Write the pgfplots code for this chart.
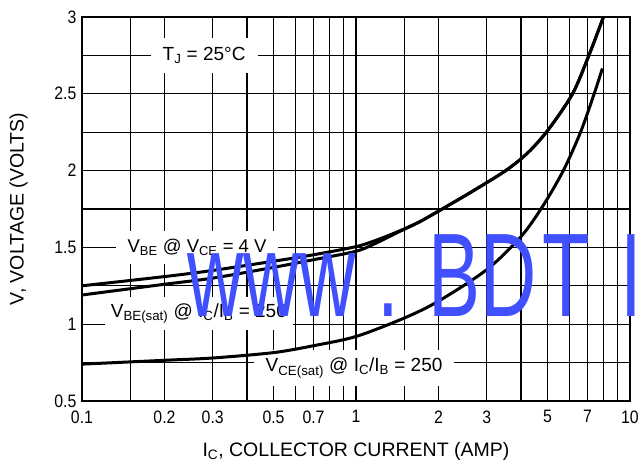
\documentclass[border=0pt]{standalone}
\usepackage{pgfplots}
\pgfplotsset{compat=1.18}
\usetikzlibrary{calc}
\usepackage{fontspec}
\setmainfont{Liberation Sans}
\newfontfamily\wmfont{Liberation Sans}[FakeStretch=0.655]
\newfontfamily\tickfont{Liberation Sans}[FakeStretch=0.88]
\definecolor{wmblue}{RGB}{64,80,255}

\begin{document}
\begin{tikzpicture}
\begin{axis}[
    scale only axis,
    width=548pt, height=384pt,
    xmode=log, log basis x=10,
    xmin=0.1, xmax=10, ymin=0.5, ymax=3,
    xtick={0.1,0.2,0.3,0.5,0.7,1,2,3,5,7,10},
    xticklabels={0.1,0.2,0.3,0.5,0.7,1,2,3,5,7,10},
    minor xtick={0.15,0.4,0.6,0.8,0.9,1.5,4,6,8,9},
    ytick={0.5,1,1.5,2,2.5,3},
    yticklabels={0.5,1,1.5,2,2.5,3},
    minor ytick={0.75,1.25,1.75,2.25,2.75},
    grid=both,
    major grid style={black, line width=1.1pt},
    minor grid style={black, line width=1.1pt},
    major tick length=0pt, minor tick length=0pt,
    axis line style={black, line width=2.5pt},
    tick label style={font=\tickfont\fontsize{18}{20}\selectfont},
    xticklabel style={yshift=-6pt},
    yticklabel style={xshift=-2pt},
    xlabel={I\textsubscript{C}, COLLECTOR CURRENT (AMP)},
    ylabel={V, VOLTAGE (VOLTS)},
    xlabel style={yshift=-12pt},
    ylabel style={yshift=20pt},
    label style={font=\fontsize{19.5}{22}\selectfont},
    clip=false,
]
\coordinate (sw) at (rel axis cs:0,0);
\coordinate (ne) at (rel axis cs:1,1);

\node[fill=white, inner xsep=12pt, inner ysep=9pt, font=\fontsize{19}{22}\selectfont]
    at (axis cs:0.279,2.75) {T\textsubscript{J} = 25°C};
\node[fill=white, inner xsep=12pt, inner ysep=8pt, font=\fontsize{18.5}{22}\selectfont]
    at (axis cs:0.263,1.5) {V\textsubscript{BE} @ V\textsubscript{CE} = 4 V};
\node[fill=white, inner xsep=6pt, inner ysep=6pt, font=\fontsize{19}{22}\selectfont]
    at (axis cs:0.267,1.07) {V\textsubscript{BE(sat)} @ I\textsubscript{C}/I\textsubscript{B} = 250};
\node[fill=white, inner xsep=12pt, inner ysep=8pt, font=\fontsize{19}{22}\selectfont]
    at (axis cs:0.984,0.715) {V\textsubscript{CE(sat)} @ I\textsubscript{C}/I\textsubscript{B} = 250};

% V_BE @ V_CE = 4 V
\addplot[black, line width=3pt, smooth] coordinates {
    (0.1,1.25) (0.2,1.31) (0.3,1.35) (0.5,1.41) (0.7,1.452) (1,1.505)
    (1.19,1.548) (1.41,1.60) (1.7,1.665) (2.04,1.745) (2.63,1.86)
    (3.52,2.0) (4.26,2.12) (5.05,2.27) (6.17,2.5) (7.08,2.75) (8,3.0)};
% V_BE(sat) @ IC/IB = 250
\addplot[black, line width=3pt, smooth] coordinates {
    (0.1,1.19) (0.2,1.26) (0.3,1.30) (0.5,1.37) (0.7,1.42) (1,1.475)
    (1.19,1.53) (1.41,1.595) (1.7,1.665) (2.04,1.745) (2.63,1.86)
    (3.52,2.0) (4.26,2.12) (5.05,2.27) (6.17,2.5) (7.08,2.75) (8,3.0)};
% V_CE(sat) @ IC/IB = 250
\addplot[black, line width=3pt, smooth] coordinates {
    (0.1,0.74) (0.2,0.765) (0.3,0.78) (0.5,0.815) (0.7,0.86)
    (1,0.92) (1.5,1.04) (2,1.15) (3,1.355) (4,1.57)
    (4.81,1.77) (5.71,2.0) (6.6,2.25) (7.4,2.5) (7.93,2.665)};

\node[anchor=base west, text=wmblue, inner sep=0pt, font=\wmfont\fontsize{119}{120}\selectfont]
    at (axis cs:0.2416,1.047) {www . BD\kern6pt T\kern30pt IC};
\end{axis}
\pgfresetboundingbox
\path[use as bounding box] ($(sw)+(-82pt,-65pt)$) rectangle ($(ne)+(10pt,17pt)$);
\end{tikzpicture}
\end{document}
